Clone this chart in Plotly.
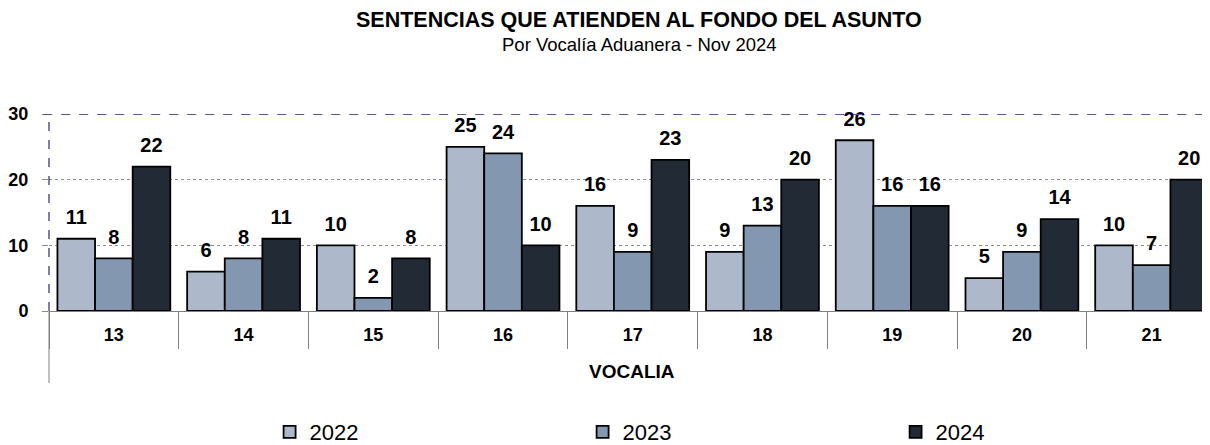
import plotly.graph_objects as go

categories = ["13", "14", "15", "16", "17", "18", "19", "20", "21"]
years = ["2022", "2023", "2024"]
v2022 = [11, 6, 10, 25, 16, 9, 26, 5, 10]
v2023 = [8, 8, 2, 24, 9, 13, 16, 9, 7]
v2024 = [22, 11, 8, 10, 23, 20, 16, 14, 20]
colors = ["#ADB9CA", "#8497B0", "#222A35"]
yticks = [0, 10, 20, 30]

FONT = "Liberation Sans, Arial, sans-serif"
# page body has an 8px margin: figure coords = screen coords - 8
TOP, BOT = 106, 303  # plot area top/bottom in figure px
H = BOT - TOP
LEFT, PW = 41, 1161


def py(screen_y):
    return (BOT - (screen_y - 8)) / H


def px(screen_x):
    return (screen_x - 8 - LEFT) / PW


fig = go.Figure()
series = [v2022, v2023, v2024]
for i, (yr, vals) in enumerate(zip(years, series)):
    fig.add_trace(go.Bar(
        x=categories, y=vals, name=yr, offsetgroup=str(i), alignmentgroup="a",
        marker=dict(color=colors[i], line=dict(color="#000000", width=1.8)),
        hoverinfo="skip",
    ))
for i, (yr, vals) in enumerate(zip(years, series)):
    fig.add_trace(go.Scatter(
        x=categories, y=vals, mode="markers+text", offsetgroup=str(i), alignmentgroup="a",
        text=[str(v) for v in vals], textposition="top center",
        textfont=dict(family=FONT, size=20, color="#000000", weight="bold"),
        marker=dict(size=14, opacity=0), showlegend=False, hoverinfo="skip",
        cliponaxis=False,
    ))
# helper trace for the divider axis
fig.add_trace(go.Scatter(x=categories, y=[0]*len(categories), xaxis="x2", mode="markers",
                         marker=dict(opacity=0, size=1), showlegend=False, hoverinfo="skip"))

fig.update_layout(
    width=1202, height=437,
    margin=dict(l=LEFT, r=0, t=TOP, b=437 - BOT, autoexpand=False),
    paper_bgcolor="white", plot_bgcolor="white",
    barmode="group", bargap=0.13, bargroupgap=0,
    scattermode="group", scattergap=0.13,
    font=dict(family=FONT, color="#000000"),
    xaxis=dict(
        type="category", categoryorder="array", categoryarray=categories,
        range=[-0.5, 8.45], showgrid=False, ticks="", showline=True,
        linecolor="#808080", linewidth=1, automargin=False,
        tickfont=dict(size=18, family=FONT, weight="bold"), ticklabelstandoff=7,
    ),
    xaxis2=dict(
        type="category", categoryorder="array", categoryarray=categories,
        overlaying="x", matches="x", side="bottom", showgrid=False,
        showticklabels=False, ticks="outside", tickson="boundaries",
        ticklen=37, tickcolor="#808080", tickwidth=1, showline=False, automargin=False,
    ),
    yaxis=dict(
        range=[0, 30], tickvals=yticks, ticks="outside", ticklen=6, tickcolor="#8888aa",
        showgrid=True, gridcolor="#8a8ab0", griddash="dot", gridwidth=1,
        zeroline=False, showline=False, automargin=False,
        tickfont=dict(size=18, family=FONT, weight="bold"), ticklabelstandoff=10,
    ),
    legend=dict(
        orientation="h", x=0.190, xanchor="left", y=py(432), yanchor="middle",
        font=dict(size=22, family=FONT), entrywidth=268, entrywidthmode="pixels",
        itemwidth=30, traceorder="normal",
    ),
    shapes=[
        dict(type="line", xref="paper", yref="y", x0=-0.005, x1=1, y0=30, y1=30,
             line=dict(color="#55559a", width=2.2, dash="dash"), layer="above"),
        dict(type="line", xref="paper", yref="paper", x0=0, x1=0, y0=0, y1=1,
             line=dict(color="#3a3a7a", width=1.3, dash="dash"), layer="above"),
        dict(type="line", xref="paper", yref="paper", x0=0, x1=0, y0=0, y1=py(383),
             line=dict(color="#808080", width=1)),
    ],
    annotations=[
        dict(text="<b>SENTENCIAS QUE ATIENDEN AL FONDO DEL ASUNTO</b>", xref="paper", yref="paper",
             x=px(639), y=py(20), xanchor="center", yanchor="middle", showarrow=False,
             font=dict(size=21.5, family=FONT, color="#000000")),
        dict(text="Por Vocalía Aduanera - Nov 2024", xref="paper", yref="paper",
             x=px(639), y=py(44), xanchor="center", yanchor="middle", showarrow=False,
             font=dict(size=18.5, family=FONT, color="#000000")),
        dict(text="<b>VOCALIA</b>", xref="paper", yref="paper", x=px(632), y=py(371),
             xanchor="center", yanchor="middle", showarrow=False,
             font=dict(size=19, family=FONT, color="#000000")),
    ],
)
fig.write_html("out.html")
